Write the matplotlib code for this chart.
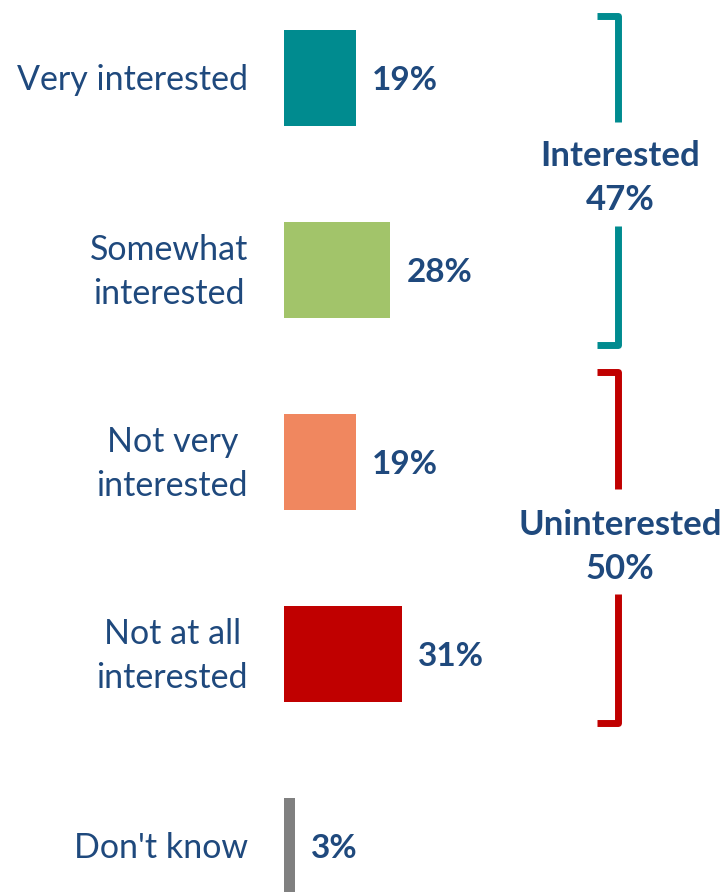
import matplotlib
matplotlib.use("Agg")
import matplotlib.pyplot as plt
from matplotlib.path import Path
from matplotlib.patches import PathPatch

categories = ["Very interested", "Somewhat\ninterested", "Not very\ninterested",
              "Not at all\ninterested", "Don't know"]
values = [19, 28, 19, 31, 3]
colors = ["#008B8F", "#A2C46A", "#F0875F", "#C00000", "#808080"]
groups = ["Interested", "Uninterested"]
group_values = [47, 50]
group_colors = ["#008B8F", "#C00000"]

TEXT = "#1F497D"
FONT = ["Lato", "DejaVu Sans"]

W, H = 722, 892
fig = plt.figure(figsize=(W / 100, H / 100), dpi=100)
ax = fig.add_axes([0, 0, 1, 1])
s = 3.8           # px per percent
x0 = 284          # px of bar base
step = 192        # px between bars
yc0 = 78          # px center of first bar
ax.set_xlim(-x0 / s, (W - x0) / s)
ax.set_ylim((H - yc0) / step, -yc0 / step)
ax.axis("off")


def py(p):
    return (p - yc0) / step


ypos = list(range(len(values)))
ax.barh(ypos, values, height=0.5, color=colors, left=0)

dy = 2 / step
for y, v, c in zip(ypos, values, categories):
    ax.text(v + 16 / s, y + dy, f"{v}%", ha="left", va="center", fontsize=24,
            fontweight="bold", color=TEXT, family=FONT)
    ax.text(-36 / s, y + dy, c, ha="right", va="center", fontsize=24.5,
            color=TEXT, family=FONT, multialignment="center", linespacing=1.45)

# bracket layout in pixels: top, gap top, gap bottom, bottom, text centre
bracket_px = [(16, 122, 226, 345, 178), (372, 489, 594, 723, 547)]
bx = (618 - x0) / s
tick = (618 - 597) / s
for (t, g1, g2, b, tc), g, gv, gc in zip(bracket_px, groups, group_values, group_colors):
    verts = [(bx - tick, py(t)), (bx, py(t)), (bx, py(g1))]
    ax.add_patch(PathPatch(Path(verts), fill=False, edgecolor=gc, lw=5,
                           joinstyle="round", capstyle="butt"))
    verts = [(bx, py(g2)), (bx, py(b)), (bx - tick, py(b))]
    ax.add_patch(PathPatch(Path(verts), fill=False, edgecolor=gc, lw=5,
                           joinstyle="round", capstyle="butt"))
    ax.text(bx + 2 / s, py(tc), f"{g}\n{gv}%", ha="center", va="center",
            fontsize=25, fontweight="bold", color=TEXT, family=FONT,
            linespacing=1.45)

fig.savefig("out.png", dpi=100)
